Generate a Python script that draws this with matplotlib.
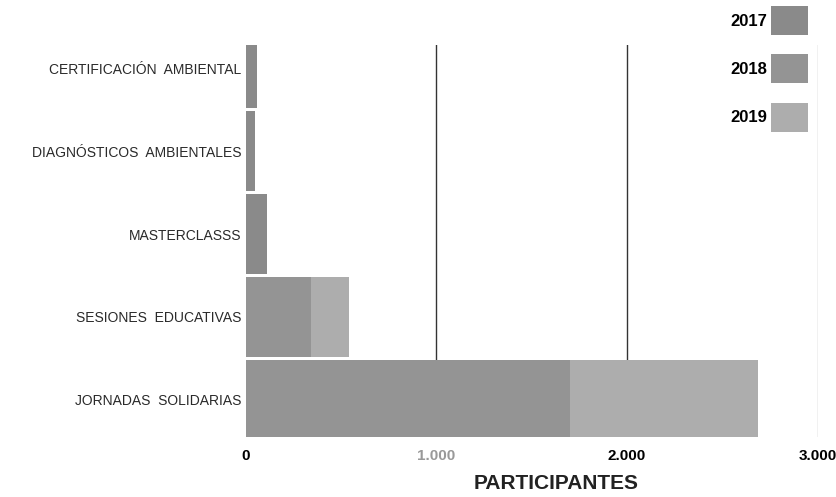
import matplotlib
matplotlib.use("Agg")
import matplotlib.pyplot as plt
from matplotlib.ticker import FuncFormatter

plt.rcParams['font.family'] = ['Liberation Sans', 'DejaVu Sans']

categories = ['JORNADAS  SOLIDARIAS', 'SESIONES  EDUCATIVAS', 'MASTERCLASSS',
              'DIAGNÓSTICOS  AMBIENTALES', 'CERTIFICACIÓN  AMBIENTAL']
years = ['2017', '2018', '2019']
v2017 = [0, 0, 110, 50, 60]
v2018 = [1700, 340, 0, 0, 0]
v2019 = [985, 200, 0, 0, 0]
colors = ['#8a8a8a', '#949494', '#adadad']

fig = plt.figure(figsize=(8.36, 4.97), dpi=100)
ax = fig.add_axes([0.294, 0.121, 0.684, 0.788])

pos = list(range(len(categories)))
left = [0] * len(categories)
for year, vals, col in zip(years, [v2017, v2018, v2019], colors):
    ax.barh(pos, vals, left=left, height=0.96, color=col, label=year, zorder=2)
    left = [a + b for a, b in zip(left, vals)]

ax.set_xlim(0, 3000)
ax.set_ylim(-0.45, 4.28)
ax.set_xticks([0, 1000, 2000, 3000])
ax.xaxis.set_major_formatter(FuncFormatter(lambda v, p: f"{int(v):,}".replace(',', '.')))
ax.set_yticks(pos)
ax.set_yticklabels(categories, fontsize=10, color='#2a2a2a')
for lbl in ax.get_xticklabels():
    lbl.set_fontsize(11)
    lbl.set_fontweight('bold')
ax.get_xticklabels()[1].set_color('#999999')

ax.tick_params(length=0, pad=3)
ax.tick_params(axis='x', pad=9)
for s in ax.spines.values():
    s.set_visible(False)
for x, c in [(1000, '#333333'), (2000, '#333333'), (3000, '#bbbbbb')]:
    ax.axvline(x, color=c, linewidth=1, zorder=1)

# axis title sits low near the bottom edge in the reference
fig.text(0.665, 0.028, 'PARTICIPANTES', fontsize=15, fontweight='bold',
         color='#222222', ha='center', va='center')

ax.legend(loc='upper right', bbox_to_anchor=(1.0, 1.125), frameon=False, markerfirst=False,
          prop={'size': 12, 'weight': 'bold'}, handlelength=2.2, handleheight=2.3,
          labelspacing=1.15, handletextpad=0.2, borderaxespad=0.2)

fig.savefig('out.png', dpi=100, facecolor='white')
